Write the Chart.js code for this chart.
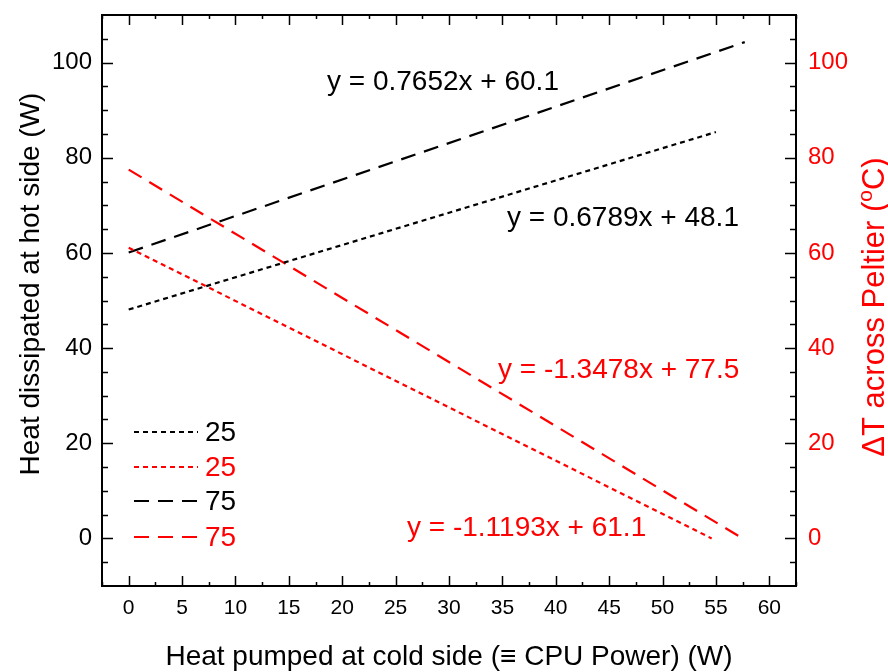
<!DOCTYPE html>
<html>
<head>
<meta charset="utf-8">
<script src="https://cdn.jsdelivr.net/npm/chart.js@4.4.1/dist/chart.umd.min.js"></script>
<style>
  html, body { margin: 0; padding: 0; background: #fff; }
  #wrap { width: 888px; height: 672px; position: relative; }
</style>
</head>
<body>
<div id="wrap"><canvas id="c"></canvas></div>
<script>
// values
const xTickValues = [0, 5, 10, 15, 20, 25, 30, 35, 40, 45, 50, 55, 60]
const yTickValues = [0, 20, 40, 60, 80, 100]

// hot side heat (W), 25 and 75 runs
const hot25X = [0, 55]
const hot25Y = [48.1, 85.4]
const hot75X = [0, 57.7]
const hot75Y = [60.1, 104.3]
// delta T (C), 25 and 75 runs
const dt25X = [0, 54.6]
const dt25Y = [61.1, 0]
const dt75X = [0, 57.5]
const dt75Y = [77.5, 0]

const legendLabels = ['25', '25', '75', '75']
const fitLabels = ['y = 0.6789x + 48.1', 'y = -1.1193x + 61.1', 'y = 0.7652x + 60.1', 'y = -1.3478x + 77.5']

const FONT = '"Liberation Sans", Arial, sans-serif'
const RED = '#ff0000'
const DOT = [5, 4]
const DASH = [15, 9]

const pts = (xs, ys) => xs.map((x, i) => ({ x, y: ys[i] }))

function lineSet(label, xs, ys, color, dash, axis) {
  return {
    label,
    data: pts(xs, ys),
    borderColor: color,
    backgroundColor: color,
    borderWidth: 2.2,
    borderDash: dash,
    pointRadius: 0,
    yAxisID: axis,
    fill: false,
    tension: 0,
  }
}

function noPad(s) {
  s.paddingTop = 0; s.paddingBottom = 0; s.paddingLeft = 0; s.paddingRight = 0
}

const decor = {
  id: 'decor',
  afterDatasetsDraw(chart) {
    const ctx = chart.ctx
    const a = chart.chartArea
    const sx = chart.scales.x, sy = chart.scales.y
    ctx.save()
    ctx.strokeStyle = '#000'
    ctx.lineWidth = 2
    ctx.setLineDash([])
    ctx.strokeRect(a.left, a.top, a.right - a.left, a.bottom - a.top)

    // x ticks, top and bottom, pointing in
    ctx.lineWidth = 1.5
    for (let v = -2.5; v <= 62.5; v += 2.5) {
      const px = Math.round(sx.getPixelForValue(v)) + 0.5
      const len = v % 5 === 0 ? 10 : 4
      ctx.beginPath()
      ctx.moveTo(px, a.bottom); ctx.lineTo(px, a.bottom - len)
      ctx.moveTo(px, a.top); ctx.lineTo(px, a.top + len)
      ctx.stroke()
    }
    // y ticks, left and right, pointing in
    for (let v = -5; v <= 105; v += 5) {
      const py = Math.round(sy.getPixelForValue(v)) + 0.5
      const len = yTickValues.includes(v) ? 11 : 6
      ctx.beginPath()
      ctx.moveTo(a.left, py); ctx.lineTo(a.left + len, py)
      ctx.moveTo(a.right, py); ctx.lineTo(a.right - len, py)
      ctx.stroke()
    }

    // axis titles
    ctx.fillStyle = '#000'
    ctx.font = '28px ' + FONT
    ctx.textAlign = 'center'
    ctx.textBaseline = 'alphabetic'
    ctx.fillText('Heat pumped at cold side (\u2261 CPU Power) (W)', (a.left + a.right) / 2, 665)

    ctx.save()
    ctx.translate(39, 284)
    ctx.rotate(-Math.PI / 2)
    ctx.fillText('Heat dissipated at hot side (W)', 0, 0)
    ctx.restore()

    ctx.save()
    ctx.translate(884, 307)
    ctx.rotate(-Math.PI / 2)
    ctx.fillStyle = RED
    const p1 = '\u0394T across Peltier (', sup = 'o', p2 = 'C)'
    ctx.font = '31px ' + FONT
    const w1 = ctx.measureText(p1).width, w3 = ctx.measureText(p2).width
    ctx.font = '21px ' + FONT
    const w2 = ctx.measureText(sup).width
    let x0 = -(w1 + w2 + w3) / 2
    ctx.textAlign = 'left'
    ctx.font = '31px ' + FONT
    ctx.fillText(p1, x0, 0)
    ctx.font = '21px ' + FONT
    ctx.fillText(sup, x0 + w1, -12)
    ctx.font = '31px ' + FONT
    ctx.fillText(p2, x0 + w1 + w2, 0)
    ctx.restore()

    // fit equations
    ctx.font = '28px ' + FONT
    ctx.textAlign = 'left'
    ctx.textBaseline = 'middle'
    const eq = [[507, 218, '#000'], [407, 528, RED], [327, 82, '#000'], [498, 370, RED]]
    fitLabels.forEach((t, i) => {
      ctx.fillStyle = eq[i][2]
      ctx.fillText(t, eq[i][0], eq[i][1])
    })

    // legend
    const rows = [432, 467, 501, 537]
    chart.data.datasets.forEach((ds, i) => {
      ctx.strokeStyle = ds.borderColor
      ctx.lineWidth = 2.2
      ctx.setLineDash(ds.borderDash)
      ctx.beginPath()
      ctx.moveTo(134, rows[i]); ctx.lineTo(198, rows[i])
      ctx.stroke()
      ctx.setLineDash([])
      ctx.fillStyle = ds.borderColor
      ctx.font = '28px ' + FONT
      ctx.fillText(legendLabels[i], 205, rows[i] + 1)
    })
    ctx.restore()
  }
}

new Chart(document.getElementById('c'), {
  type: 'line',
  data: {
    datasets: [
      lineSet('25', hot25X, hot25Y, '#000', DOT, 'y'),
      lineSet('25', dt25X, dt25Y, RED, DOT, 'y2'),
      lineSet('75', hot75X, hot75Y, '#000', DASH, 'y'),
      lineSet('75', dt75X, dt75Y, RED, DASH, 'y2'),
    ],
  },
  options: {
    responsive: true,
    maintainAspectRatio: false,
    animation: false,
    layout: { padding: { top: 15, left: 0, right: 0, bottom: 0 } },
    plugins: { legend: { display: false }, tooltip: { enabled: false } },
    scales: {
      x: {
        type: 'linear',
        min: -2.5,
        max: 62.5,
        grid: { display: false, drawTicks: false },
        border: { display: false },
        afterBuildTicks: s => { s.ticks = xTickValues.map(v => ({ value: v })) },
        afterFit: s => { s.height = 86; noPad(s) },
        ticks: { color: '#000', padding: 10, maxRotation: 0, autoSkip: false, font: { family: FONT, size: 21 } },
      },
      y: {
        position: 'left',
        min: -10,
        max: 110,
        grid: { display: false, drawTicks: false },
        border: { display: false },
        afterBuildTicks: s => { s.ticks = yTickValues.map(v => ({ value: v })) },
        afterFit: s => { s.width = 102; noPad(s) },
        ticks: { color: '#000', padding: 10, font: { family: FONT, size: 24 } },
      },
      y2: {
        position: 'right',
        min: -10,
        max: 110,
        grid: { display: false, drawTicks: false },
        border: { display: false },
        afterBuildTicks: s => { s.ticks = yTickValues.map(v => ({ value: v })) },
        afterFit: s => { s.width = 92; noPad(s) },
        ticks: { color: RED, padding: 12, font: { family: FONT, size: 24 } },
      },
    },
  },
  plugins: [decor],
})
</script>
</body>
</html>
